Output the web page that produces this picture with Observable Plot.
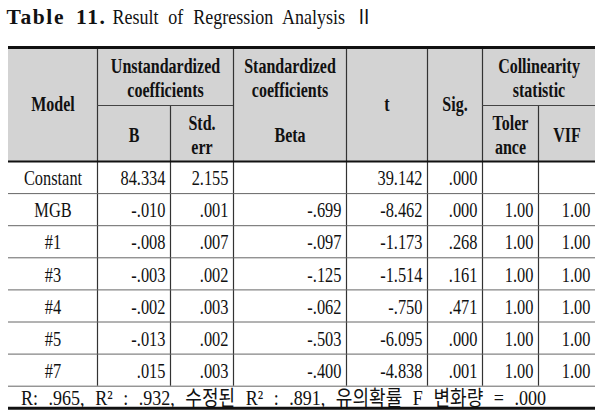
<!DOCTYPE html>
<html><head><meta charset="utf-8">
<script src="https://cdn.jsdelivr.net/npm/d3@7"></script>
<script src="https://cdn.jsdelivr.net/npm/@observablehq/plot@0.6"></script>
<style>body{margin:0;background:#fff}</style>
</head><body><div id="chart"></div>
<script>
// ---- data ----
const titleBold = "Table\u00a011.";
const titleText = "Result of Regression Analysis Ⅱ";
const models = ["Constant", "MGB", "#1", "#3", "#4", "#5", "#7"];
const coefB = [84.334, -0.010, -0.008, -0.003, -0.002, -0.013, 0.015];
const stdErr = [2.155, 0.001, 0.007, 0.002, 0.003, 0.002, 0.003];
const beta = [null, -0.699, -0.097, -0.125, -0.062, -0.503, -0.400];
const tValue = [39.142, -8.462, -1.173, -1.514, -0.750, -6.095, -4.838];
const sig = [0.000, 0.000, 0.268, 0.161, 0.471, 0.000, 0.001];
const tolerance = [null, 1.00, 1.00, 1.00, 1.00, 1.00, 1.00];
const vif = [null, 1.00, 1.00, 1.00, 1.00, 1.00, 1.00];
const headerTop = ["Model", "Unstandardized\ncoefficients", "Standardized\ncoefficients", "t", "Sig.", "Collinearity\nstatistic"];
const headerSub = ["B", "Std.\nerr", "Beta", "Toler\nance", "VIF"];
const fitR = 0.965, fitR2 = 0.932, fitAdjR2 = 0.891, fitSigF = 0.000;

// ---- layout (pixels) ----
const colEdges = [8, 97, 170, 233, 346, 427, 482, 538, 595];
const headTop = 47, headMid = 105, headBottom = 161, rowH = 32.1;
const bodyBottom = headBottom + rowH * models.length;
const tableBottom = bodyBottom + 22;
const topSpans = [[0,1,0],[1,3,1],[3,4,1],[4,5,0],[5,6,0],[6,8,1]];
const subSpans = [[1,2],[2,3],[3,4],[6,7],[7,8]];

const loc = d3.formatLocale({decimal: ".", thousands: ",", grouping: [3], currency: ["", ""], minus: "-"});
const f3 = v => v == null ? "" : loc.format(".3f")(v).replace(/^(-?)0\./, "$1.");
const f2 = v => v == null ? "" : loc.format(".2f")(v);

const headerCells = [];
headerTop.forEach((t, i) => {
  const [a, b, part] = topSpans[i];
  const y = part === 0 ? (headTop + headBottom) / 2 - 1 : (headTop + headMid) / 2 + 1;
  headerCells.push({x: (colEdges[a] + colEdges[b]) / 2, y, text: t});
});
headerSub.forEach((t, i) => {
  const [a, b] = subSpans[i];
  headerCells.push({x: (colEdges[a] + colEdges[b]) / 2, y: (headMid + headBottom) / 2 + 1, text: t});
});

const centerCells = [], rightCells = [];
models.forEach((m, i) => {
  const y = headBottom + rowH * (i + 0.5) + 1;
  centerCells.push({x: (colEdges[0] + colEdges[1]) / 2, y, text: m});
  const vals = [f3(coefB[i]), f3(stdErr[i]), f3(beta[i]), f3(tValue[i]), f3(sig[i]), f2(tolerance[i]), f2(vif[i])];
  vals.forEach((v, j) => rightCells.push({x: colEdges[j + 2] - 5, y, text: v}));
});

const hLines = [
  {x1: colEdges[0], x2: colEdges[8], y: headTop, w: 3, c: "#111"},
  {x1: colEdges[1], x2: colEdges[3], y: headMid, w: 1, c: "#444"},
  {x1: colEdges[6], x2: colEdges[8], y: headMid, w: 1, c: "#444"},
  {x1: colEdges[0], x2: colEdges[8], y: headBottom, w: 2.2, c: "#111"},
  {x1: colEdges[0], x2: colEdges[8], y: tableBottom, w: 3, c: "#111"}
];
for (let i = 1; i <= models.length; i++) hLines.push({x1: colEdges[0], x2: colEdges[8], y: headBottom + rowH * i, w: 1, c: "#666"});

const vLines = [];
[1, 3, 4, 5, 6].forEach(k => vLines.push({x: colEdges[k], y1: headTop, y2: bodyBottom}));
[2, 7].forEach(k => vLines.push({x: colEdges[k], y1: headMid, y2: bodyBottom}));

const footer = `R: ${f3(fitR)}, R² : ${f3(fitR2)}, 수정된 R² : ${f3(fitAdjR2)}, 유의확률 F 변화량 = ${f3(fitSigF)}`;

const FONT = "Liberation Serif, Times New Roman, Noto Sans CJK KR, serif";

const svg = Plot.plot({
  width: 609, height: 416, margin: 0,
  x: {type: "identity", axis: null},
  y: {type: "identity", axis: null},
  style: {background: "#fff"},
  marks: [
    Plot.rect([{x1: colEdges[0], x2: colEdges[8], y1: headTop, y2: headBottom}], {x1: "x1", x2: "x2", y1: "y1", y2: "y2", fill: "#d3d3d3"}),
    Plot.ruleX(vLines, {x: "x", y1: "y1", y2: "y2", stroke: "#333", strokeWidth: 1.2}),
    Plot.ruleY(hLines, {y: "y", x1: "x1", x2: "x2", stroke: d => d.c, strokeWidth: d => d.w}),
    Plot.text(headerCells, {x: "x", y: "y", text: "text", fontFamily: FONT, fontWeight: "bold", fontSize: 20, lineHeight: 1.2, lineAnchor: "middle", fill: "#111", className: "condh"}),
    Plot.text(centerCells, {x: "x", y: "y", text: "text", fontFamily: FONT, fontSize: 21, lineAnchor: "middle", fill: "#111", className: "cond"}),
    Plot.text(rightCells, {x: "x", y: "y", text: "text", fontFamily: FONT, fontSize: 21, lineAnchor: "middle", textAnchor: "end", fill: "#111", className: "cond"}),
    Plot.text([{x: colEdges[0] - 2, y: 17, text: titleBold}], {x: "x", y: "y", text: "text", fontFamily: FONT, fontSize: 21.5, fontWeight: "bold", textAnchor: "start", lineAnchor: "middle", fill: "#111", className: "titleb"}),
    Plot.text([{x: 112, y: 17, text: titleText}], {x: "x", y: "y", text: "text", fontFamily: FONT, fontSize: 20, textAnchor: "start", lineAnchor: "middle", fill: "#111", className: "titler"}),
    Plot.text([{x: 283, y: (bodyBottom + tableBottom) / 2 + 1, text: footer}], {x: "x", y: "y", text: "text", fontFamily: FONT, fontSize: 21, lineAnchor: "middle", fill: "#111", className: "footer"})
  ]
});

function squeeze(sel, k) {
  svg.querySelectorAll(sel).forEach(t => {
    let tr = t.getAttribute("transform");
    if (!tr) {
      const x = t.getAttribute("x") || 0, y = t.getAttribute("y") || 0;
      t.removeAttribute("x"); t.removeAttribute("y");
      tr = `translate(${x},${y})`;
    }
    t.setAttribute("transform", tr + ` scale(${k},1)`);
  });
}
squeeze(".cond text", 0.78);
squeeze(".condh text", 0.8);
squeeze(".titler text", 0.9);
squeeze(".footer text", 0.86);
svg.querySelectorAll(".titleb text").forEach(t => { t.style.letterSpacing = "1.6px"; t.style.wordSpacing = "4px"; });
svg.querySelectorAll(".titler text").forEach(t => t.style.wordSpacing = "6px");
svg.querySelectorAll(".footer text").forEach(t => t.style.wordSpacing = "7px");
document.getElementById("chart").appendChild(svg);
</script>
</body></html>
